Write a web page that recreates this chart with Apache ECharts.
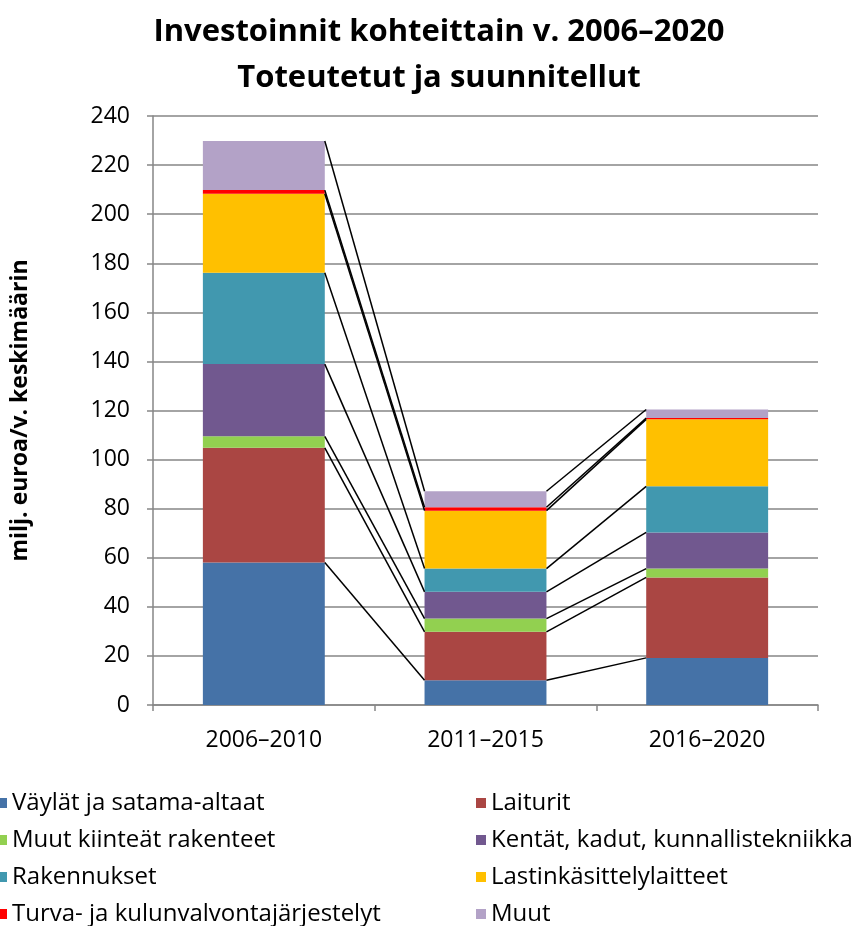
<!DOCTYPE html>
<html>
<head>
<meta charset="utf-8">
<script src="https://cdn.jsdelivr.net/npm/echarts@6/dist/echarts.min.js"></script>
<style>
  html, body { margin: 0; padding: 0; background: #fff; }
  #chart { width: 854px; height: 926px; }
</style>
</head>
<body>
<div id="chart"></div>
<script>
// data
var periods = ['2006–2010', '2011–2015', '2016–2020']
var seriesNames = [
  'Väylät ja satama-altaat',
  'Laiturit',
  'Muut kiinteät rakenteet',
  'Kentät, kadut, kunnallistekniikka',
  'Rakennukset',
  'Lastinkäsittelylaitteet',
  'Turva- ja kulunvalvontajärjestelyt',
  'Muut'
]
var vaylat = [58.1, 10.1, 19.2]
var laiturit = [46.7, 19.7, 32.8]
var muutKiinteat = [4.7, 5.4, 3.6]
var kentat = [29.4, 10.9, 14.7]
var rakennukset = [37.2, 9.5, 18.8]
var lastinkasittely = [32.2, 23.6, 27.3]
var turva = [1.5, 1.4, 0.5]
var muut = [20.0, 6.5, 3.5]
var yTicks = [0, 20, 40, 60, 80, 100, 120, 140, 160, 180, 200, 220, 240]

var colors = ['#4572a7', '#aa4643', '#92d050', '#71588f', '#4198af', '#ffc000', '#ff0000', '#b3a2c7']
var allValues = [vaylat, laiturit, muutKiinteat, kentat, rakennukset, lastinkasittely, turva, muut]

var chart = echarts.init(document.getElementById('chart'))
var barW = 0.55
var font = 'Open Sans'

// series lines (like Excel): join the top of each stacked segment between neighbouring bars
var lineData = []
var cum = periods.map(function () { return 0 })
var cumList = []
allValues.forEach(function (vals) {
  cum = cum.map(function (c, i) { return c + vals[i] })
  cumList.push(cum.slice())
})
cumList.forEach(function (c) {
  for (var i = 0; i < periods.length - 1; i++) {
    lineData.push([i, c[i], c[i + 1]])
  }
})

var series = allValues.map(function (vals, k) {
  return {
    name: seriesNames[k],
    type: 'bar',
    stack: 'total',
    barWidth: (barW * 100) + '%',
    itemStyle: { color: colors[k] },
    data: vals
  }
})
series.push({
  name: 'sarjaviivat',
  type: 'custom',
  z: 5,
  silent: true,
  encode: { x: 0, y: 1 },
  renderItem: function (params, api) {
    var i = api.value(0)
    var p1 = api.coord([i, api.value(1)])
    var p2 = api.coord([i + 1, api.value(2)])
    var half = api.size([1, 0])[0] * barW / 2
    return {
      type: 'line',
      shape: { x1: p1[0] + half, y1: p1[1], x2: p2[0] - half, y2: p2[1] },
      style: { stroke: '#000', lineWidth: 1.5 }
    }
  },
  data: lineData
})

var legendText = { fontFamily: font, fontSize: 24, color: '#000', lineHeight: 28 }
function legendCol (left, names) {
  return {
    orient: 'vertical',
    left: left,
    top: 789,
    height: 200,
    padding: 0,
    itemWidth: 10,
    itemHeight: 10,
    itemGap: 9,
    icon: 'rect',
    textStyle: legendText,
    data: names
  }
}

chart.setOption({
  animation: false,
  textStyle: { fontFamily: font },
  title: {
    text: 'Investoinnit kohteittain v. 2006–2020\nToteutetut ja suunnitellut',
    left: 434,
    textAlign: 'center',
    top: 4,
    textStyle: { fontFamily: font, fontSize: 31, fontWeight: 'bold', color: '#000', lineHeight: 46 }
  },
  legend: [
    legendCol(-3, [seriesNames[0], seriesNames[2], seriesNames[4], seriesNames[6]]),
    legendCol(476, [seriesNames[1], seriesNames[3], seriesNames[5], seriesNames[7]])
  ],
  grid: { left: 153, right: 36, top: 116, bottom: 221 },
  xAxis: {
    type: 'category',
    data: periods,
    axisLine: { lineStyle: { color: '#868686', width: 1.5 } },
    axisTick: { show: true, length: 6, lineStyle: { color: '#868686', width: 1.5 } },
    axisLabel: { color: '#000', fontFamily: font, fontSize: 23, margin: 24 }
  },
  yAxis: {
    type: 'value',
    min: yTicks[0],
    max: yTicks[yTicks.length - 1],
    interval: yTicks[1] - yTicks[0],
    name: 'milj. euroa/v. keskimäärin',
    nameLocation: 'middle',
    nameGap: 121,
    nameTextStyle: { fontFamily: font, fontSize: 23, fontWeight: 'bold', color: '#000' },
    axisLine: { show: true, lineStyle: { color: '#868686', width: 1.5 } },
    axisTick: { show: true, length: 6, lineStyle: { color: '#868686', width: 1.5 } },
    axisLabel: { color: '#000', fontFamily: font, fontSize: 23, margin: 23 },
    splitLine: { lineStyle: { color: '#868686', width: 1.5 } }
  },
  series: series
})
</script>
</body>
</html>
